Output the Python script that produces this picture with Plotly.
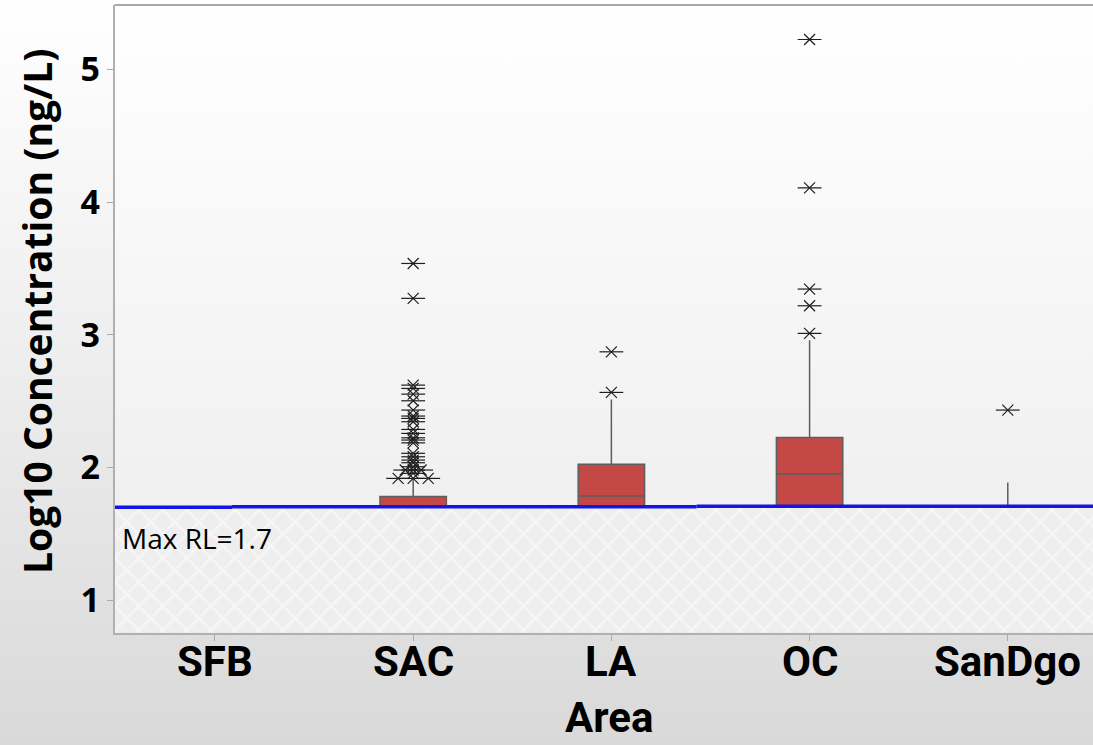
import plotly.graph_objects as go

W, H = 1093, 745

# ---------------- data (log10 ng/L) ----------------
areas = ["SFB", "SAC", "LA", "OC", "SanDgo"]
area_pos = [0, 1, 2, 3, 4]

box_areas = ["SAC", "LA", "OC", "SanDgo"]
box_q1 = [1.70, 1.70, 1.70, 1.70]
box_median = [1.70, 1.784, 1.95, 1.70]
box_q3 = [1.78, 2.023, 2.226, 1.70]
box_lower = [1.70, 1.70, 1.70, 1.70]
box_upper = [1.917, 2.512, 2.959, 1.887]

sac_outliers = [3.537, 3.274, 2.620, 2.595, 2.552, 2.502, 2.432, 2.387, 2.369,
                2.344, 2.286, 2.256, 2.223, 2.206, 2.185, 2.106, 2.080, 2.055,
                2.035, 2.005, 1.980, 1.980, 1.980, 1.955, 1.917, 1.917, 1.917]
sac_jitter = [0, 0, 0, 0, 0, 0, 0, 0, 0,
              0, 0, 0, 0, 0, 0, 0, 0, 0,
              0, 0, 0, -0.04, 0.04, 0, 0, -0.076, 0.076]
la_outliers = [2.565, 2.871]
oc_outliers = [3.01, 3.218, 3.344, 4.107, 5.225]
sandgo_outliers = [2.432]

rl_value = 1.7
rl_label = "Max RL=1.7"
rl_seg_start = [-0.506, 0.086, 2.43]
rl_seg_end = [0.086, 2.43, 4.43]
rl_seg_level = [1.700, 1.704, 1.708]

x_range = [-0.506, 4.43]
y_range = [0.754, 5.485]
y_ticks = [1, 2, 3, 4, 5]

# ---------------- figure ----------------
fig = go.Figure()

# full-page gradient background (hidden axes x/y, drawn first)
fig.add_trace(go.Scatter(
    x=[0, 1, 1, 0, 0], y=[0, 0, 1, 1, 0], mode="lines", fill="toself",
    line=dict(width=0), hoverinfo="skip", showlegend=False,
    fillgradient=dict(type="vertical",
                      colorscale=[[0, "#d9d9d9"], [0.5, "#ededed"], [1, "#ffffff"]]),
    xaxis="x", yaxis="y"))

# plot-area background on x2/y2 (the visible axes)
fig.add_trace(go.Scatter(
    x=[x_range[0], x_range[1], x_range[1], x_range[0], x_range[0]],
    y=[y_range[0], y_range[0], y_range[1], y_range[1], y_range[0]],
    mode="lines", fill="toself", line=dict(width=0), hoverinfo="skip", showlegend=False,
    fillgradient=dict(type="vertical", colorscale=[[0, "#ececec"], [1, "#ffffff"]]),
    xaxis="x2", yaxis="y2"))

# hatched region below reporting limit
fig.add_trace(go.Scatter(
    x=[x_range[0], x_range[1], x_range[1], x_range[0], x_range[0]],
    y=[y_range[0], y_range[0], rl_value, rl_value, y_range[0]],
    mode="lines", fill="toself", line=dict(width=0), hoverinfo="skip", showlegend=False,
    fillcolor="#efefef",
    fillpattern=dict(shape="x", fgcolor="#ffffff", bgcolor="#eeeeee", size=17, solidity=0.25),
    xaxis="x2", yaxis="y2"))

# data layer on overlay axes x3/y3 (drawn above the backgrounds)
XA, YA = "x3", "y3"

for name, q1, med, q3, lo, hi in zip(box_areas, box_q1, box_median, box_q3, box_lower, box_upper):
    fig.add_trace(go.Box(
        x=[area_pos[areas.index(name)]], q1=[q1], median=[med], q3=[q3],
        lowerfence=[lo], upperfence=[hi], width=0.335, whiskerwidth=0,
        orientation="v",
        fillcolor="#c44946", line=dict(color="#5e5e5e", width=1.5),
        boxpoints=False, showlegend=False, hoverinfo="skip",
        xaxis=XA, yaxis=YA))

# reporting limit line
for xs, xe, lv in zip(rl_seg_start, rl_seg_end, rl_seg_level):
    fig.add_trace(go.Scatter(x=[xs, xe], y=[lv, lv], mode="lines",
                             line=dict(color="#1414e6", width=3.5),
                             hoverinfo="skip", showlegend=False, xaxis=XA, yaxis=YA))

# outliers
out_x, out_y = [], []
for v, j in zip(sac_outliers, sac_jitter):
    out_x.append(area_pos[areas.index("SAC")] + j); out_y.append(v)
for v in la_outliers:
    out_x.append(area_pos[areas.index("LA")]); out_y.append(v)
for v in oc_outliers:
    out_x.append(area_pos[areas.index("OC")]); out_y.append(v)
for v in sandgo_outliers:
    out_x.append(area_pos[areas.index("SanDgo")]); out_y.append(v)

fig.add_trace(go.Scatter(x=out_x, y=out_y, mode="markers",
                         marker=dict(symbol="x-thin-open", size=11, color="#1e1e1e",
                                     line=dict(color="#1e1e1e", width=1.2)),
                         hoverinfo="skip", showlegend=False, xaxis=XA, yaxis=YA))
fig.add_trace(go.Scatter(x=out_x, y=out_y, mode="markers",
                         marker=dict(symbol="line-ew-open", size=17, color="#1e1e1e",
                                     line=dict(color="#1e1e1e", width=1.2)),
                         hoverinfo="skip", showlegend=False, xaxis=XA, yaxis=YA))

x_dom = [114.7 / W, 1.0]
y_dom = [(H - 632.7) / H, (H - 5) / H]

label_font = dict(family="Roboto, 'Open Sans', sans-serif", size=42,
                  color="#000000", weight="bold")
annotations = [
    dict(text=a, xref="x2", yref="paper", x=p, y=(H - 661) / H,
         xanchor="center", yanchor="middle", showarrow=False, font=label_font)
    for a, p in zip(areas, area_pos)
]
annotations += [
    dict(text="Log10 Concentration (ng/L)", textangle=-90,
         xref="paper", yref="paper", x=36 / W, y=(H - 312) / H,
         xanchor="center", yanchor="middle", showarrow=False,
         font=dict(family="'Open Sans', sans-serif", size=39, color="#000000",
                   weight="bold")),
    dict(text="Area", xref="paper", yref="paper", x=609 / W, y=(H - 717) / H,
         xanchor="center", yanchor="middle", showarrow=False, font=label_font),
    dict(text=rl_label, xref="paper", yref="paper", x=120 / W, y=(H - 538) / H,
         xanchor="left", yanchor="middle", showarrow=False,
         font=dict(family="'Open Sans', sans-serif", size=28, color="#000000")),
]

fig.update_layout(
    width=W, height=H, margin=dict(l=0, r=0, t=0, b=0),
    paper_bgcolor="#ffffff", plot_bgcolor="rgba(0,0,0,0)",
    xaxis=dict(domain=[0, 1], range=[0, 1], visible=False, fixedrange=True),
    yaxis=dict(domain=[0, 1], range=[0, 1], visible=False, fixedrange=True),
    xaxis2=dict(domain=x_dom, range=x_range, anchor="y2",
                tickmode="array", tickvals=area_pos, showticklabels=False,
                ticks="outside", ticklen=6, tickcolor="#aaaaaa", tickwidth=1,
                showline=True, linecolor="#b0b0b0", linewidth=2,
                showgrid=False, zeroline=False),
    yaxis2=dict(domain=y_dom, range=y_range, anchor="x2",
                tickmode="array", tickvals=y_ticks,
                ticks="outside", ticklen=6, tickcolor="#aaaaaa", tickwidth=1,
                showline=True, linecolor="#b0b0b0", linewidth=2,
                showgrid=False, zeroline=False,
                tickfont=dict(family="'Open Sans', sans-serif", size=34,
                              color="#000000", weight="bold")),
    xaxis3=dict(overlaying="x2", range=x_range, anchor="y3", visible=False),
    yaxis3=dict(overlaying="y2", range=y_range, anchor="x3", visible=False),
    shapes=[dict(type="line", xref="x2 domain", yref="y2 domain",
                 x0=0, x1=1, y0=1, y1=1, line=dict(color="#a8a8a8", width=2))],
    annotations=annotations,
)

fig.write_html("out.html")
